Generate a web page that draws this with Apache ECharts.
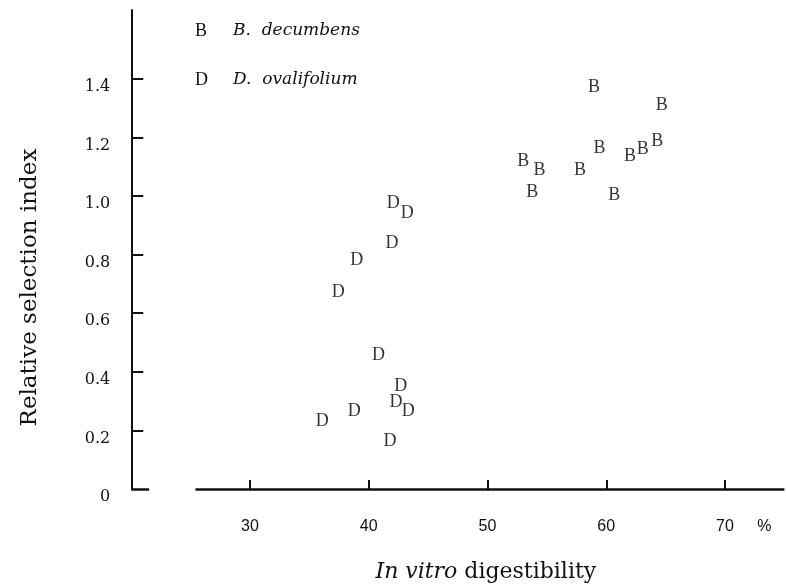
<!DOCTYPE html>
<html><head><meta charset="utf-8">
<script src="https://cdn.jsdelivr.net/npm/echarts@6/dist/echarts.min.js"></script>
<style>html,body{margin:0;padding:0;background:#fff}#c{width:786px;height:588px}</style>
</head><body><div id="c"></div>
<script>
const xTicks = [30, 40, 50, 60, 70];
const yTicks = [0, 0.2, 0.4, 0.6, 0.8, 1.0, 1.2, 1.4];
const bX = [58.97, 64.67, 59.42, 62.0, 63.07, 64.3, 53.02, 54.37, 57.79, 53.77, 60.68];
const bY = [1.372, 1.311, 1.163, 1.137, 1.160, 1.186, 1.117, 1.087, 1.087, 1.014, 1.004];
const dX = [42.07, 43.25, 41.96, 38.98, 37.44, 40.81, 42.69, 42.29, 43.33, 38.78, 36.09, 41.79];
const dY = [0.977, 0.941, 0.839, 0.782, 0.670, 0.457, 0.352, 0.295, 0.267, 0.264, 0.230, 0.162];
const seriesNames = ['B. decumbens', 'D. ovalifolium'];
const markers = ['B', 'D'];
const xAxisStart = 25.4;

const ink = '#111';
const serif = 'DejaVu Serif';
const zip = (a, b) => a.map((v, i) => [v, b[i]]);

const chart = echarts.init(document.getElementById('c'));
function mkSeries(i, data, extra) {
  return Object.assign({
    name: seriesNames[i],
    type: 'scatter',
    data: data,
    symbolSize: 1,
    itemStyle: { color: 'rgba(0,0,0,0)' },
    label: { show: true, position: 'inside', formatter: markers[i], color: '#000', fontFamily: 'Liberation Serif', fontSize: 18 },
    emphasis: { disabled: true }
  }, extra || {});
}
chart.setOption({
  animation: false,
  backgroundColor: '#fff',
  grid: { left: 131.25, right: 1.6, top: 10, bottom: 99 },
  legend: {
    orient: 'vertical', left: 185, top: 17, itemGap: 31, itemWidth: 0, itemHeight: 0,
    selectedMode: false,
    data: seriesNames,
    formatter: function (n) { return '{m|' + markers[seriesNames.indexOf(n)] + '}{n|' + n.replace('. ', '.  ') + '}'; },
    textStyle: {
      color: ink,
      rich: {
        m: { width: 38, fontFamily: 'Liberation Serif', fontSize: 18, color: ink },
        n: { fontFamily: serif, fontStyle: 'italic', fontSize: 17, color: ink }
      }
    }
  },
  xAxis: {
    type: 'value', min: 20, max: 75,
    axisLine: { show: false },
    axisTick: { show: true, inside: true, length: 9, lineStyle: { color: ink, width: 2 }, customValues: xTicks },
    axisLabel: {
      customValues: xTicks.concat([75]), margin: 30, color: ink, fontFamily: 'Liberation Sans', fontSize: 16,
      formatter: v => v === 75 ? '{p|%}' : String(v),
      rich: { p: { padding: [0, 40, 0, 0], fontFamily: 'Liberation Sans', fontSize: 16, color: ink } }
    },
    splitLine: { show: false },
    name: '{i|In vitro} digestibility',
    nameLocation: 'middle', nameGap: 72,
    nameTextStyle: {
      padding: [0, 0, 0, 56], color: ink, fontFamily: serif, fontSize: 22,
      rich: { i: { fontStyle: 'italic', fontFamily: serif, fontSize: 22, color: ink } }
    }
  },
  yAxis: {
    type: 'value', min: 0, max: 1.635,
    axisLine: { show: true, lineStyle: { color: ink, width: 2 } },
    axisTick: { show: true, inside: true, length: 12, lineStyle: { color: ink, width: 2 }, customValues: yTicks.slice(1) },
    axisLabel: { customValues: yTicks, margin: 21, verticalAlign: 'top', color: ink, fontFamily: serif, fontSize: 16, formatter: v => v === 0 ? '0' : v.toFixed(1) },
    splitLine: { show: false },
    name: 'Relative selection index',
    nameLocation: 'middle', nameGap: 90,
    nameTextStyle: { padding: [0, 76, 0, 0], color: ink, fontFamily: serif, fontSize: 23 }
  },
  series: [
    mkSeries(0, zip(bX, bY), {
      markLine: {
        silent: true, symbol: 'none', label: { show: false },
        lineStyle: { color: ink, width: 2.5, type: 'solid' },
        data: [
          [{ coord: [xAxisStart, 0] }, { coord: [75, 0] }],
          [{ coord: [20, 0] }, { coord: [21.5, 0] }]
        ]
      }
    }),
    mkSeries(1, zip(dX, dY))
  ]
});
</script></body></html>
